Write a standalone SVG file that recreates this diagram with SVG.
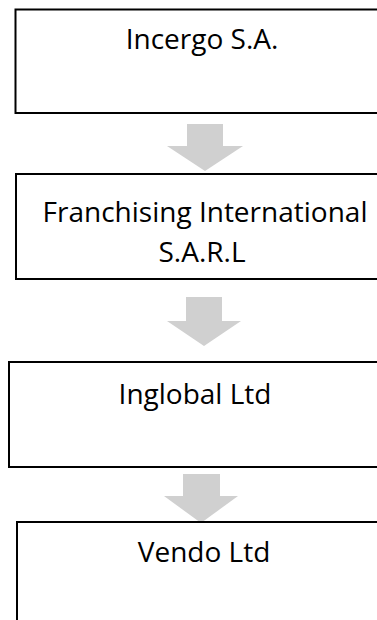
<svg xmlns="http://www.w3.org/2000/svg" width="377" height="620" viewBox="0 0 377 620">
<style>
.box{fill:#fff;stroke:#000;stroke-width:2}
.lbl{font-family:"Open Sans","Liberation Sans",sans-serif;font-size:28px;fill:#000;text-anchor:middle}
.arr{fill:#D0D0D0;stroke:none}
</style>
<rect width="377" height="620" fill="#fff"/>
<g id="connectors">
<polygon class="arr" points="187,124 223,124 223,146 243,146 205,171 167,146 187,146"/>
<polygon class="arr" points="186,297 222,297 222,321 241,321 204,346 167,321 186,321"/>
<polygon class="arr" points="183,474 220,474 220,496 238,496 201,523 164,496 183,496"/>
</g>
<g id="n1"><rect class="box" x="15.5" y="9.5" width="375" height="103.5"/><text class="lbl" x="202" y="49">Incergo S.A.</text></g>
<g id="n2"><rect class="box" x="16" y="174" width="375" height="105"/><text class="lbl" x="205" y="222">Franchising International</text><text class="lbl" x="202" y="262">S.A.R.L</text></g>
<g id="n3"><rect class="box" x="9" y="362" width="375" height="105"/><text class="lbl" x="195" y="404">Inglobal Ltd</text></g>
<g id="n4"><rect class="box" x="17" y="522" width="375" height="120"/><text class="lbl" x="204" y="562">Vendo Ltd</text></g>
</svg>
